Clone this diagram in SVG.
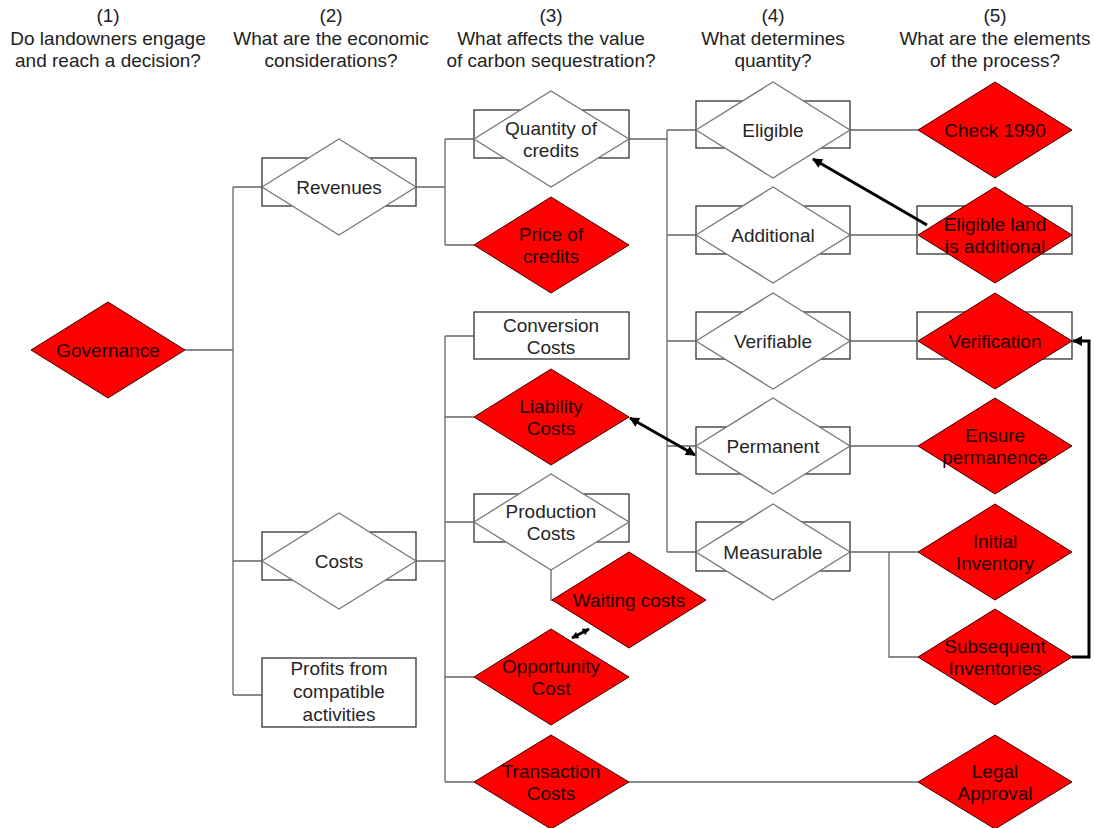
<svg xmlns="http://www.w3.org/2000/svg" width="1095" height="828" viewBox="0 0 1095 828">
<defs>
<style>
.bx{fill:#fff;stroke:#333;stroke-width:1.3}
.wd{fill:#fff;stroke:#777;stroke-width:1.3}
.rd{fill:#ff0000;stroke:#400;stroke-width:1}
.t{font-family:"Liberation Sans",Arial,sans-serif;font-size:19px;text-anchor:middle;fill:#262626}
.rt{fill:#220000}
.h{font-family:"Liberation Sans",Arial,sans-serif;font-size:19px;text-anchor:middle;fill:#222}
.c{stroke:#666;stroke-width:1.3;fill:none}
.a{stroke:#000;stroke-width:3;fill:none}
</style>
<marker id="ah" viewBox="0 0 10 10" refX="9" refY="5" markerWidth="12" markerHeight="10" markerUnits="userSpaceOnUse" orient="auto-start-reverse">
<path d="M0,0 L10,5 L0,10 z" fill="#000"/>
</marker>
<marker id="ahs" viewBox="0 0 10 10" refX="9" refY="5" markerWidth="8" markerHeight="7" markerUnits="userSpaceOnUse" orient="auto-start-reverse">
<path d="M0,0 L10,5 L0,10 z" fill="#000"/>
</marker>
</defs>
<rect width="1095" height="828" fill="#fff"/>

<g id="headers">
<text class="h" x="108" y="22">(1)</text>
<text class="h" x="108" y="45">Do landowners engage</text>
<text class="h" x="108" y="67">and reach a decision?</text>
<text class="h" x="331" y="22">(2)</text>
<text class="h" x="331" y="45">What are the economic</text>
<text class="h" x="331" y="67">considerations?</text>
<text class="h" x="551" y="22">(3)</text>
<text class="h" x="551" y="45">What affects the value</text>
<text class="h" x="551" y="67">of carbon sequestration?</text>
<text class="h" x="773" y="22">(4)</text>
<text class="h" x="773" y="45">What determines</text>
<text class="h" x="773" y="67">quantity?</text>
<text class="h" x="995" y="22">(5)</text>
<text class="h" x="995" y="45">What are the elements</text>
<text class="h" x="995" y="67">of the process?</text>
</g>

<g id="connectors">
<path class="c" d="M185,350 H233 M233,187 V695 M233,187 H262 M233,561 H262 M233,695 H262"/>
<path class="c" d="M416,187 H445 M445,139 V245 M445,139 H474 M445,245 H474"/>
<path class="c" d="M416,561 H445 M445,336 V782 M445,336 H474 M445,417 H474 M445,522 H474 M445,677 H474 M445,782 H474"/>
<path class="c" d="M551,570 V600 H553"/>
<path class="c" d="M629,139 H667 M667,130 V552 M667,130 H696 M667,235 H696 M667,341 H696 M667,446 H696 M667,552 H696"/>
<path class="c" d="M850,130 H918 M850,235 H918 M850,341 H918 M850,446 H918 M850,552 H889 V657 H918 M889,552 H918"/>
<path class="c" d="M629,782 H918"/>
</g>

<g id="n-governance">
<polygon class="rd" points="31,350 108,302 185,350 108,398"/>
<text class="t rt" x="108" y="357">Governance</text>
</g>

<g id="n-revenues">
<rect class="bx" x="262" y="158" width="154" height="48"/>
<polygon class="wd" points="262,187 339,139 416,187 339,235"/>
<text class="t" x="339" y="194">Revenues</text>
</g>
<g id="n-costs">
<rect class="bx" x="262" y="532" width="154" height="48"/>
<polygon class="wd" points="262,561 339,513 416,561 339,609"/>
<text class="t" x="339" y="568">Costs</text>
</g>
<g id="n-profits">
<rect class="bx" x="262" y="658" width="154" height="69"/>
<text class="t" x="339" y="675">Profits from</text>
<text class="t" x="339" y="698">compatible</text>
<text class="t" x="339" y="721">activities</text>
</g>

<g id="n-quantity">
<rect class="bx" x="474" y="110" width="155" height="48"/>
<polygon class="wd" points="474,139 551,91 629,139 551,187"/>
<text class="t" x="551" y="135">Quantity of</text>
<text class="t" x="551" y="157">credits</text>
</g>
<g id="n-price">
<polygon class="rd" points="474,245 551,197 629,245 551,293"/>
<text class="t rt" x="551" y="241">Price of</text>
<text class="t rt" x="551" y="263">credits</text>
</g>
<g id="n-conversion">
<rect class="bx" x="474" y="312" width="155" height="47"/>
<text class="t" x="551" y="332">Conversion</text>
<text class="t" x="551" y="354">Costs</text>
</g>
<g id="n-liability">
<polygon class="rd" points="474,417 551,369 629,417 551,465"/>
<text class="t rt" x="551" y="413">Liability</text>
<text class="t rt" x="551" y="435">Costs</text>
</g>
<g id="n-production">
<rect class="bx" x="474" y="494" width="155" height="48"/>
<polygon class="wd" points="474,522 551,474 629,522 551,570"/>
<text class="t" x="551" y="518">Production</text>
<text class="t" x="551" y="540">Costs</text>
</g>
<g id="n-waiting">
<polygon class="rd" points="552,600 629,552 706,600 629,648"/>
<text class="t rt" x="629" y="607">Waiting costs</text>
</g>
<g id="n-opportunity">
<polygon class="rd" points="474,677 551,629 629,677 551,725"/>
<text class="t rt" x="551" y="673">Opportunity</text>
<text class="t rt" x="551" y="695">Cost</text>
</g>
<g id="n-transaction">
<polygon class="rd" points="474,782 551,735 629,782 551,829"/>
<text class="t rt" x="551" y="778">Transaction</text>
<text class="t rt" x="551" y="800">Costs</text>
</g>

<g id="n-eligible">
<rect class="bx" x="696" y="101" width="154" height="47"/>
<polygon class="wd" points="696,130 773,82 850,130 773,178"/>
<text class="t" x="773" y="137">Eligible</text>
</g>
<g id="n-additional">
<rect class="bx" x="696" y="206" width="154" height="48"/>
<polygon class="wd" points="696,235 773,187 850,235 773,283"/>
<text class="t" x="773" y="242">Additional</text>
</g>
<g id="n-verifiable">
<rect class="bx" x="696" y="312" width="154" height="47"/>
<polygon class="wd" points="696,341 773,293 850,341 773,389"/>
<text class="t" x="773" y="348">Verifiable</text>
</g>
<g id="n-permanent">
<rect class="bx" x="696" y="427" width="154" height="47"/>
<polygon class="wd" points="696,446 773,398 850,446 773,494"/>
<text class="t" x="773" y="453">Permanent</text>
</g>
<g id="n-measurable">
<rect class="bx" x="696" y="522" width="154" height="49"/>
<polygon class="wd" points="696,552 773,504 850,552 773,600"/>
<text class="t" x="773" y="559">Measurable</text>
</g>

<g id="n-check1990">
<polygon class="rd" points="918,130 995,82 1072,130 995,178"/>
<text class="t rt" x="995" y="137">Check 1990</text>
</g>
<g id="n-eligibleland">
<rect class="bx" x="917" y="206" width="155" height="48"/>
<polygon class="rd" points="918,235 995,187 1072,235 995,283"/>
<text class="t rt" x="995" y="231">Eligible land</text>
<text class="t rt" x="995" y="253">is additional</text>
</g>
<g id="n-verification">
<rect class="bx" x="917" y="312" width="155" height="47"/>
<polygon class="rd" points="918,341 995,293 1072,341 995,389"/>
<text class="t rt" x="995" y="348">Verification</text>
</g>
<g id="n-ensure">
<polygon class="rd" points="918,446 995,398 1072,446 995,494"/>
<text class="t rt" x="995" y="442">Ensure</text>
<text class="t rt" x="995" y="464">permanence</text>
</g>
<g id="n-initial">
<polygon class="rd" points="918,552 995,504 1072,552 995,600"/>
<text class="t rt" x="995" y="548">Initial</text>
<text class="t rt" x="995" y="570">Inventory</text>
</g>
<g id="n-subsequent">
<polygon class="rd" points="918,657 995,609 1072,657 995,705"/>
<text class="t rt" x="995" y="653">Subsequent</text>
<text class="t rt" x="995" y="675">Inventories</text>
</g>
<g id="n-legal">
<polygon class="rd" points="918,782 995,735 1072,782 995,829"/>
<text class="t rt" x="995" y="778">Legal</text>
<text class="t rt" x="995" y="800">Approval</text>
</g>

<g id="arrows">
<line class="a" x1="927" y1="225" x2="813" y2="159" marker-end="url(#ah)"/>
<line class="a" stroke-width="2.5" x1="630" y1="418" x2="695" y2="455" marker-start="url(#ah)" marker-end="url(#ah)"/>
<path class="a" stroke-width="3.5" d="M1072,657 H1089 V341 H1073" marker-end="url(#ah)"/>
<line class="a" stroke-width="2" x1="572" y1="638" x2="589" y2="629" marker-start="url(#ahs)" marker-end="url(#ahs)"/>
</g>
</svg>
